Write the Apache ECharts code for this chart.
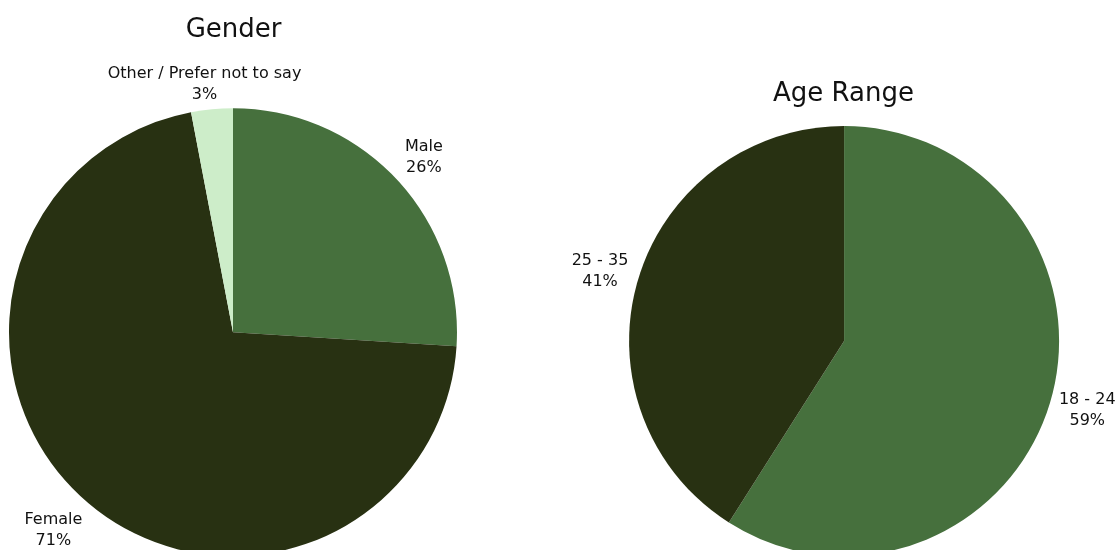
<!DOCTYPE html>
<html><head><meta charset="utf-8">
<script src="https://cdn.jsdelivr.net/npm/echarts@6/dist/echarts.min.js"></script>
<style>html,body{margin:0;padding:0;background:#fff}#c{width:1118px;height:550px}</style>
</head><body><div id="c"></div>
<script>
const genderCategories = ['Male', 'Female', 'Other / Prefer not to say'];
const genderValues = [26, 71, 3];
const ageCategories = ['18 - 24', '25 - 35'];
const ageValues = [59, 41];
const genderColors = ['#46703d', '#283112', '#cdedc9'];
const ageColors = ['#46703d', '#283112'];
const genderLabelGaps = [31, 40, 25];
const ageLabelGaps = [33, 34];

const FONT = '"DejaVu Sans", sans-serif';
function toData(cats, vals, cols, gaps) {
  return cats.map((c, i) => ({ name: c, value: vals[i], itemStyle: { color: cols[i] },
    labelLine: { show: false, length: gaps[i], length2: 0 } }));
}
function labelCfg() {
  return {
    show: true, position: 'outside',
    formatter: '{c|{b}}\n{c|{d}%}',
    rich: { c: { align: 'center', fontFamily: FONT, fontSize: 16, color: '#111', lineHeight: 21 } }
  };
}
const titleStyle = { fontFamily: FONT, fontSize: 26, fontWeight: 'normal', color: '#111' };
const chart = echarts.init(document.getElementById('c'));
chart.setOption({
  animation: false,
  title: [
    { text: 'Gender', left: '20.45%', top: 12, textAlign: 'center', textStyle: titleStyle },
    { text: 'Age Range', left: '75.0%', top: 76, textAlign: 'center', textStyle: titleStyle }
  ],
  series: [
    { type: 'pie', center: ['20.84%', '60.4%'], radius: 224, startAngle: 90, clockwise: true,
      avoidLabelOverlap: false, data: toData(genderCategories, genderValues, genderColors, genderLabelGaps),
      label: labelCfg(), labelLine: { show: false, length2: 0 },
      labelLayout: function () { return { align: 'center', verticalAlign: 'middle' }; },
      emphasis: { disabled: true } },
    { type: 'pie', center: ['75.5%', '62%'], radius: 215, startAngle: 90, clockwise: true,
      avoidLabelOverlap: false, data: toData(ageCategories, ageValues, ageColors, ageLabelGaps),
      label: labelCfg(), labelLine: { show: false, length2: 0 },
      labelLayout: function () { return { align: 'center', verticalAlign: 'middle' }; },
      emphasis: { disabled: true } }
  ]
});
</script></body></html>
